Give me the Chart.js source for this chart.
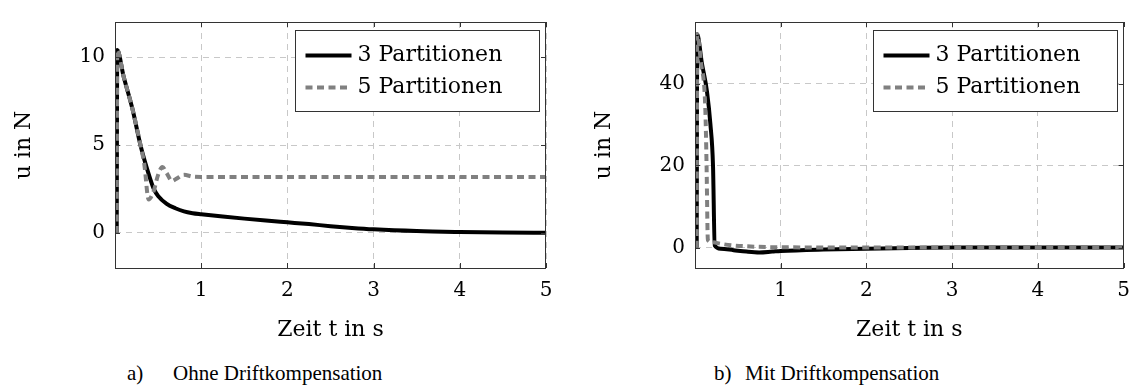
<!DOCTYPE html>
<html>
<head>
<meta charset="utf-8">
<script src="https://cdn.jsdelivr.net/npm/chart.js@4"></script>
<style>
body { margin: 0; background: #fff; width: 1141px; height: 391px; overflow: hidden; position: relative; font-family: 'Liberation Serif', serif; }
.box { position: absolute; top: 0; height: 345px; }
.cap { position: absolute; top: 361px; font-size: 21px; color: #000; white-space: nowrap; }
</style>
</head>
<body>
<div class="box" style="left:0;width:570px"><canvas id="chartA" width="570" height="345"></canvas></div>
<div class="box" style="left:580px;width:561px"><canvas id="chartB" width="561" height="345"></canvas></div>
<div class="cap" style="left:127px">a)</div>
<div class="cap" style="left:173px">Ohne Driftkompensation</div>
<div class="cap" style="left:714px">b)</div>
<div class="cap" style="left:745px">Mit Driftkompensation</div>
<script>
// series labels and axis ticks
const seriesLabels = ['3 Partitionen', '5 Partitionen'];
const xTicks = [1, 2, 3, 4, 5];
const yTicksA = [0, 5, 10];
const yTicksB = [0, 20, 40];

// a) Ohne Driftkompensation
const tA3 = [0.02, 0.026, 0.1, 0.2, 0.3, 0.4, 0.45, 0.5, 0.6, 0.7, 0.8, 0.9, 1.0, 1.25, 1.5, 1.75, 2.0, 2.25, 2.5, 2.75, 3.0, 3.5, 4.0, 4.5, 5.0];
const uA3 = [0, 10.4, 8.9, 7.1, 4.9, 3.2, 2.5, 2.1, 1.65, 1.4, 1.22, 1.12, 1.06, 0.93, 0.81, 0.7, 0.6, 0.5, 0.38, 0.28, 0.2, 0.1, 0.05, 0.02, 0];
const tA5 = [0.02, 0.026, 0.1, 0.2, 0.3, 0.34, 0.39, 0.45, 0.5, 0.55, 0.6, 0.66, 0.72, 0.8, 0.9, 1.0, 2, 3, 4, 5];
const uA5 = [0, 10.4, 8.9, 7.1, 4.9, 3.9, 1.9, 2.4, 3.3, 3.75, 3.4, 2.95, 3.1, 3.3, 3.2, 3.18, 3.18, 3.18, 3.18, 3.18];

// b) Mit Driftkompensation
const tB3 = [0.02, 0.026, 0.08, 0.14, 0.18, 0.21, 0.23, 0.3, 0.45, 0.6, 0.75, 0.9, 1.0, 1.5, 2, 2.5, 3, 4, 5];
const uB3 = [0, 52, 45, 38, 30, 20, 0.5, -0.3, -0.65, -1.0, -1.2, -1.0, -0.85, -0.5, -0.3, -0.1, 0, 0, 0];
const tB5 = [0.02, 0.026, 0.07, 0.12, 0.135, 0.15, 0.2, 0.3, 0.45, 0.7, 1.0, 2, 3, 4, 5];
const uB5 = [0, 52, 45, 34, 20, 1.8, 1.3, 0.9, 0.5, 0.2, 0.05, 0, 0, 0, 0];

const FONT = "'DejaVu Serif', serif";

function pts(ts, us) {
    return ts.map((t, i) => ({ x: t, y: us[i] }));
}

// frame, inner tick marks and the boxed legend (pgfplots style)
const framePlugin = {
    id: 'frame',
    afterDatasetsDraw(chart) {
        const { ctx, chartArea: a, scales } = chart;
        ctx.save();
        ctx.setLineDash([]);
        ctx.strokeStyle = '#333';
        ctx.lineWidth = 1;
        ctx.beginPath();
        scales.x.ticks.forEach(t => {
            const px = Math.round(scales.x.getPixelForValue(t.value)) + 0.5;
            ctx.moveTo(px, a.bottom); ctx.lineTo(px, a.bottom - 5);
            ctx.moveTo(px, a.top); ctx.lineTo(px, a.top + 5);
        });
        scales.y.ticks.forEach(t => {
            const py = Math.round(scales.y.getPixelForValue(t.value)) + 0.5;
            ctx.moveTo(a.left, py); ctx.lineTo(a.left + 5, py);
            ctx.moveTo(a.right, py); ctx.lineTo(a.right - 5, py);
        });
        ctx.stroke();
        ctx.strokeRect(Math.round(a.left) + 0.5, Math.round(a.top) + 0.5, Math.round(a.right - a.left) - 1, Math.round(a.bottom - a.top));

        // legend box
        const w = 244, h = 81;
        const bx = Math.round(a.right - 7 - w) + 0.5, by = Math.round(a.top + 8) + 0.5;
        ctx.fillStyle = '#fff';
        ctx.fillRect(bx, by, w, h);
        ctx.strokeRect(bx, by, w, h);
        ctx.font = '22px ' + FONT;
        ctx.textBaseline = 'middle';
        chart.data.datasets.forEach((ds, i) => {
            const y = by + 25 + i * 32;
            ctx.strokeStyle = ds.borderColor;
            ctx.lineWidth = ds.borderWidth;
            ctx.setLineDash(ds.borderDash || []);
            ctx.beginPath();
            ctx.moveTo(bx + 10, y); ctx.lineTo(bx + 56, y);
            ctx.stroke();
            ctx.fillStyle = '#000';
            ctx.fillText(ds.label, bx + 62, y);
        });
        ctx.restore();
    }
};

function makeChart(id, s3, s5, yMin, yMax, yTicks, rightPad) {
    return new Chart(document.getElementById(id), {
        type: 'line',
        data: {
            datasets: [
                {
                    label: seriesLabels[0],
                    data: s3,
                    borderColor: '#000',
                    borderWidth: 4,
                    order: 1
                },
                {
                    label: seriesLabels[1],
                    data: s5,
                    borderColor: '#808080',
                    borderWidth: 4,
                    borderDash: [7, 4.5],
                    order: 0
                }
            ]
        },
        options: {
            responsive: false,
            animation: false,
            devicePixelRatio: 1,
            layout: { padding: { top: 10, right: rightPad, left: 0, bottom: 0 } },
            elements: {
                point: { radius: 0 },
                line: { cubicInterpolationMode: 'monotone', borderCapStyle: 'butt' }
            },
            scales: {
                x: {
                    type: 'linear',
                    min: 0,
                    max: 5,
                    afterBuildTicks: s => { s.ticks = xTicks.map(v => ({ value: v })); },
                    afterFit: s => { s.height = 77; },
                    ticks: { color: '#000', font: { family: FONT, size: 20 }, padding: 11 },
                    grid: { color: '#c8c8c8', drawTicks: false },
                    border: { display: false, dash: [6, 5] },
                    title: { display: true, text: 'Zeit t in s', color: '#000', font: { family: FONT, size: 22 }, padding: { top: 0, bottom: 2 } }
                },
                y: {
                    min: yMin,
                    max: yMax,
                    afterBuildTicks: s => { s.ticks = yTicks.map(v => ({ value: v })); },
                    afterFit: s => { s.width = 115; },
                    ticks: { color: '#000', font: { family: FONT, size: 20 }, padding: 10 },
                    grid: { color: '#c8c8c8', drawTicks: false },
                    border: { display: false, dash: [6, 5] },
                    title: { display: true, text: 'u in N', color: '#000', font: { family: FONT, size: 22 }, padding: { top: 11, bottom: 0 } }
                }
            },
            plugins: {
                legend: { display: false },
                tooltip: { enabled: false }
            }
        },
        plugins: [framePlugin]
    });
}

makeChart('chartA', pts(tA3, uA3), pts(tA5, uA5), -2, 12, yTicksA, 24);
makeChart('chartB', pts(tB3, uB3), pts(tB5, uB5), -5, 55, yTicksB, 16);
</script>
</body>
</html>
